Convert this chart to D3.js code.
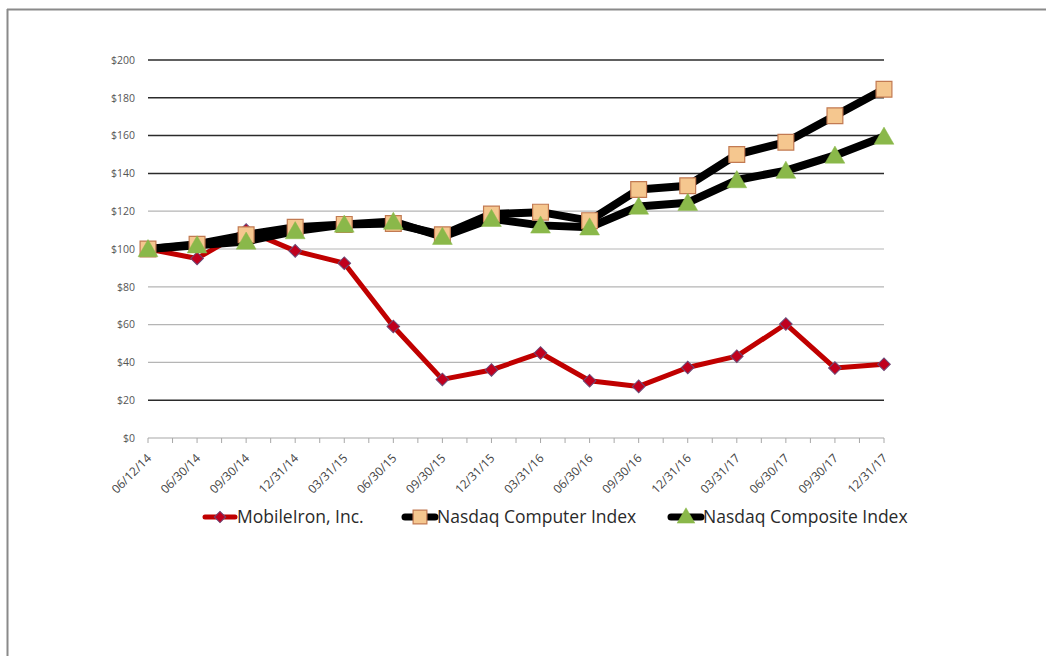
<!DOCTYPE html>
<html>
<head>
<meta charset="utf-8">
<script src="https://cdn.jsdelivr.net/npm/d3@7"></script>
<style>
  body { margin: 0; background: #fff; }
  svg { display: block; }
</style>
</head>
<body>
<svg id="chart" width="1046" height="656"></svg>
<script>
// data
const dates = ['06/12/14', '06/30/14', '09/30/14', '12/31/14', '03/31/15', '06/30/15', '09/30/15', '12/31/15',
  '03/31/16', '06/30/16', '09/30/16', '12/31/16', '03/31/17', '06/30/17', '09/30/17', '12/31/17'];
const mobileIron = [100, 95, 110, 99, 92.5, 59, 31, 36, 45, 30.3, 27.3, 37.3, 43.3, 60.3, 37, 39];
const nasdaqComputer = [100, 102.5, 107.5, 111.5, 113, 113.5, 107.5, 118.5, 119.5, 115, 131.5, 133.5, 150, 156.5, 170.5, 184.5];
const nasdaqComposite = [100, 102, 104, 109.5, 113, 114.5, 106.5, 116, 112.5, 111.5, 122.5, 124.5, 136.5, 141.5, 149.5, 159.5];
const yTicks = [0, 20, 40, 60, 80, 100, 120, 140, 160, 180, 200];
const darkGrid = [20, 140, 160, 180, 200];

const svg = d3.select('#chart');
const font = '"Open Sans", sans-serif';

// page frame (scanned page edge)
svg.append('line').attr('x1', 7).attr('x2', 1046).attr('y1', 9.5).attr('y2', 9.5)
  .attr('stroke', '#8a8a8a').attr('stroke-width', 2);
svg.append('line').attr('x1', 7.5).attr('x2', 7.5).attr('y1', 9).attr('y2', 656)
  .attr('stroke', '#8a8a8a').attr('stroke-width', 2);

// scales
const x = d3.scalePoint().domain(dates).range([148, 884]);
const y = d3.scaleLinear().domain([0, 200]).range([438, 60]);

// gridlines
svg.append('g').selectAll('line')
  .data(yTicks.filter(d => d > 0))
  .enter().append('line')
  .attr('x1', 148).attr('x2', 884)
  .attr('y1', d => y(d)).attr('y2', d => y(d))
  .attr('stroke', d => darkGrid.includes(d) ? '#2b2b2b' : '#b5b5b5')
  .attr('stroke-width', d => darkGrid.includes(d) ? 1.5 : 1.2);

// y axis labels
const yAxis = svg.append('g').attr('transform', 'translate(148,0)')
  .call(d3.axisLeft(y).tickValues(yTicks).tickSize(0).tickPadding(13).tickFormat(d => '$' + d));
yAxis.select('.domain').remove();
yAxis.selectAll('text').attr('font-family', font).attr('font-size', 10.5).attr('fill', '#555');

// x axis with minor ticks between categories
const step = x.step();
svg.append('line').attr('x1', 148).attr('x2', 884).attr('y1', y(0)).attr('y2', y(0))
  .attr('stroke', '#a8a8a8').attr('stroke-width', 1.2);
const tickPos = d3.range(0, dates.length * 2 - 1).map(i => 148 + i * step / 2);
svg.append('g').selectAll('line').data(tickPos).enter().append('line')
  .attr('x1', d => d).attr('x2', d => d)
  .attr('y1', y(0)).attr('y2', y(0) + 5)
  .attr('stroke', '#a8a8a8').attr('stroke-width', 1);
svg.append('g').selectAll('text').data(dates).enter().append('text')
  .attr('transform', d => `translate(${x(d) + 4},${y(0) + 21}) rotate(-45)`)
  .attr('text-anchor', 'end')
  .attr('font-family', font).attr('font-size', 12).attr('fill', '#444')
  .text(d => d);

// series
const series = [
  { name: 'MobileIron, Inc.', values: mobileIron, line: '#c00000', width: 5, marker: 'diamond' },
  { name: 'Nasdaq Computer Index', values: nasdaqComputer, line: '#000', width: 8, marker: 'square' },
  { name: 'Nasdaq Composite Index', values: nasdaqComposite, line: '#000', width: 8, marker: 'triangle' }
];

const markerStyle = {
  diamond: { sym: d3.symbolSquare, size: 80, rot: 45, fill: '#c0001e', stroke: '#6b4a78', sw: 1 },
  square: { sym: d3.symbolSquare, size: 250, rot: 0, fill: '#f5c78f', stroke: '#c27a52', sw: 1.2 },
  triangle: { sym: d3.symbolTriangle, size: 170, rot: 0, fill: '#8ab84a', stroke: '#8ab84a', sw: 0.5 }
};

const line = d3.line().x((d, i) => x(dates[i])).y(d => y(d));

series.forEach(s => {
  svg.append('g').append('path').attr('d', line(s.values))
    .attr('fill', 'none').attr('stroke', s.line).attr('stroke-width', s.width)
    .attr('stroke-linejoin', 'round');
});
series.forEach(s => {
  const m = markerStyle[s.marker];
  svg.append('g').selectAll('path').data(s.values).enter().append('path')
    .attr('transform', (d, i) => `translate(${x(dates[i])},${y(d) + (s.marker === 'triangle' ? 2 : 0)}) rotate(${m.rot})`)
    .attr('d', d3.symbol().type(m.sym).size(m.size))
    .attr('fill', m.fill).attr('stroke', m.stroke).attr('stroke-width', m.sw);
});

// legend
const legendX = [203, 403, 669];
const legend = svg.append('g');
series.forEach((s, i) => {
  const m = markerStyle[s.marker];
  const g = legend.append('g').attr('transform', `translate(${legendX[i]},517)`);
  g.append('line').attr('x1', 2).attr('x2', 32).attr('y1', 0).attr('y2', 0)
    .attr('stroke', s.line).attr('stroke-width', s.marker === 'diamond' ? 5 : 7).attr('stroke-linecap', 'round');
  g.append('path').attr('transform', `translate(17,${s.marker === 'triangle' ? 1 : 0}) rotate(${m.rot})`)
    .attr('d', d3.symbol().type(m.sym).size(s.marker === 'square' ? 190 : m.size * 0.8))
    .attr('fill', m.fill).attr('stroke', m.stroke).attr('stroke-width', m.sw);
  g.append('text').attr('x', 34).attr('y', 6)
    .attr('font-family', font).attr('font-size', 17.5).attr('fill', '#2a2a2a')
    .text(s.name);
});
</script>
</body>
</html>
